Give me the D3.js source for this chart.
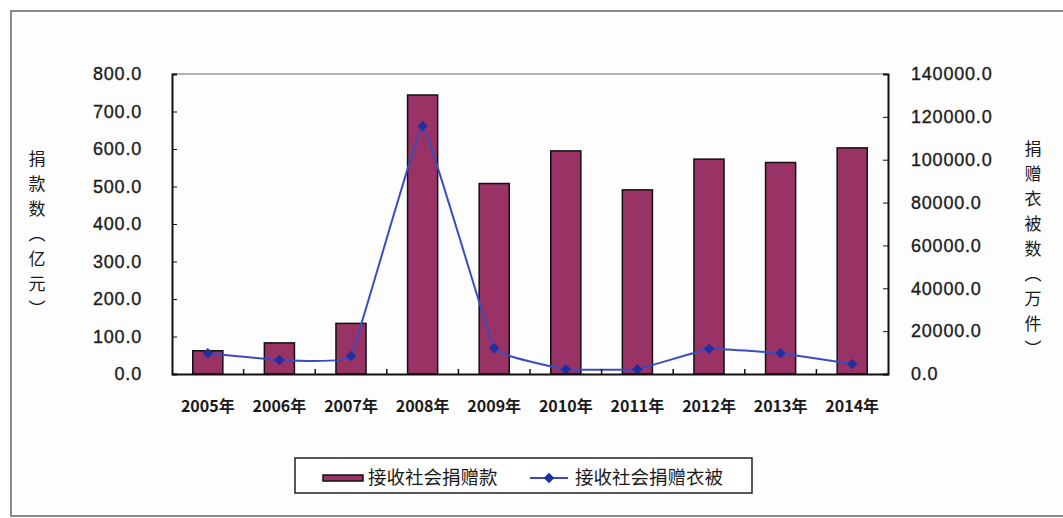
<!DOCTYPE html>
<html>
<head>
<meta charset="utf-8">
<script src="https://cdn.jsdelivr.net/npm/d3@7"></script>
<style>
  body { margin: 0; background: #fff; }
  svg text { font-family: "Liberation Sans", Arial, "Noto Sans CJK SC", sans-serif; fill: #1a1a1a; }
  .cjk { font-family: "Noto Sans CJK SC", sans-serif; }
</style>
</head>
<body>
<div id="container"></div>
<script>
var W = 1063, H = 518;
var margin = {top: 74, right: 175, bottom: 144, left: 172},
    w = W - margin.left - margin.right,
    h = H - margin.top - margin.bottom;

// data
var years = ['2005年', '2006年', '2007年', '2008年', '2009年', '2010年', '2011年', '2012年', '2013年', '2014年'];
var money = [62, 83, 135, 744, 508, 595, 491, 573, 564, 603];          // 亿元
var clothes = [9700, 6500, 8400, 115700, 12000, 2200, 2200, 11800, 9700, 4700]; // 万件
var leftTicks = [0, 100, 200, 300, 400, 500, 600, 700, 800];
var rightTicks = [0, 20000, 40000, 60000, 80000, 100000, 120000, 140000];
var seriesNames = ['接收社会捐赠款', '接收社会捐赠衣被'];

var svg = d3.select('#container').append('svg')
    .attr('width', W)
    .attr('height', H);

// outer frame
svg.append('rect')
    .attr('x', 11).attr('y', 11)
    .attr('width', W + 10).attr('height', H - 13)
    .attr('fill', '#fdfdfd')
    .attr('stroke', '#8a8a8a')
    .attr('stroke-width', 2);

var g = svg.append('g').attr('transform', 'translate(' + margin.left + ',' + margin.top + ')');

var x = d3.scaleBand().domain(years).range([0, w]).paddingInner(0.58).paddingOuter(0.29);
var yL = d3.scaleLinear().domain([0, 800]).range([h, 0]);
var yR = d3.scaleLinear().domain([0, 140000]).range([h, 0]);

// plot area top border
g.append('line')
    .attr('x1', 0).attr('x2', w).attr('y1', 0).attr('y2', 0)
    .attr('stroke', '#9a9a9a').attr('stroke-width', 1.5);

// bars
g.selectAll('rect.bar').data(money)
  .enter().append('rect')
    .attr('class', 'bar')
    .attr('x', (d, i) => x(years[i]))
    .attr('y', d => yL(d))
    .attr('width', x.bandwidth())
    .attr('height', d => h - yL(d))
    .attr('fill', '#993366')
    .attr('stroke', '#111')
    .attr('stroke-width', 1.5);

// line (lightly smoothed, like the Excel original)
var line = d3.line()
    .x((d, i) => x(years[i]) + x.bandwidth() / 2)
    .y(d => yR(d))
    .curve(d3.curveCardinal.tension(0.8));

g.append('path')
    .datum(clothes)
    .attr('d', line)
    .attr('fill', 'none')
    .attr('stroke', '#3a4cc0')
    .attr('stroke-width', 2);

var diamond = d3.symbol().type(d3.symbolSquare).size(55);
g.selectAll('path.pt').data(clothes)
  .enter().append('path')
    .attr('class', 'pt')
    .attr('d', diamond)
    .attr('transform', (d, i) => 'translate(' + (x(years[i]) + x.bandwidth() / 2) + ',' + yR(d) + ') rotate(45)')
    .attr('fill', '#1f2f9e');

function styleNums(sel) {
  sel.style('font-size', '18px')
     .style('letter-spacing', '0.8px')
     .attr('fill', '#222')
     .attr('stroke', '#222')
     .attr('stroke-width', 0.35);
}

// left axis
var leftAxis = d3.axisLeft(yL).tickValues(leftTicks).tickSize(-5).tickPadding(30)
    .tickFormat(d3.format('.1f'));
var la = g.append('g').call(leftAxis);
la.select('.domain').attr('stroke', '#111').attr('stroke-width', 2);
la.selectAll('.tick line').attr('stroke', '#111');
la.selectAll('.tick text').call(styleNums);

// right axis
var rightAxis = d3.axisRight(yR).tickValues(rightTicks).tickSize(-5).tickPadding(23)
    .tickFormat(d3.format('.1f'));
var ra = g.append('g').attr('transform', 'translate(' + w + ',0)').call(rightAxis);
ra.select('.domain').attr('stroke', '#111').attr('stroke-width', 2);
ra.selectAll('.tick line').attr('stroke', '#111');
ra.selectAll('.tick text').call(styleNums);

// x axis: labels at bar centres, ticks between categories
var xa = g.append('g').attr('transform', 'translate(0,' + h + ')').call(d3.axisBottom(x).tickSize(0).tickPadding(27));
xa.select('.domain').attr('stroke', '#111').attr('stroke-width', 2);
xa.selectAll('.tick text').attr('class', 'cjk').style('font-size', '16px').style('font-weight', 'bold').attr('fill', '#222');
g.selectAll('line.xt').data(years.slice(1))
  .enter().append('line')
    .attr('class', 'xt')
    .attr('x1', d => x(d) - x.step() * x.paddingInner() / 2)
    .attr('x2', d => x(d) - x.step() * x.paddingInner() / 2)
    .attr('y1', h).attr('y2', h - 5)
    .attr('stroke', '#111').attr('stroke-width', 1.5);

// axis titles (vertical)
svg.append('text')
    .attr('class', 'cjk')
    .attr('x', 37).attr('y', 150)
    .style('writing-mode', 'vertical-rl')
    .style('font-size', '17px')
    .style('letter-spacing', '8px')
    .attr('fill', '#333')
    .text('捐款数（亿元）');

svg.append('text')
    .attr('class', 'cjk')
    .attr('x', 1033).attr('y', 140)
    .style('writing-mode', 'vertical-rl')
    .style('font-size', '17px')
    .style('letter-spacing', '8px')
    .attr('fill', '#333')
    .text('捐赠衣被数（万件）');

// legend
var lg = svg.append('g').attr('transform', 'translate(295,458)');
lg.append('rect')
    .attr('width', 457).attr('height', 35)
    .attr('fill', '#fff')
    .attr('stroke', '#222').attr('stroke-width', 1.5);
lg.append('rect')
    .attr('x', 28).attr('y', 17).attr('width', 40).attr('height', 6)
    .attr('fill', '#993366').attr('stroke', '#111').attr('stroke-width', 1.5);
lg.append('text').attr('class', 'cjk')
    .attr('x', 73).attr('y', 26)
    .style('font-size', '18.5px').attr('fill', '#222')
    .text(seriesNames[0]);
lg.append('line')
    .attr('x1', 235).attr('x2', 273).attr('y1', 20).attr('y2', 20)
    .attr('stroke', '#3a4cc0').attr('stroke-width', 2);
lg.append('path')
    .attr('d', diamond)
    .attr('transform', 'translate(254,20) rotate(45)')
    .attr('fill', '#1f2f9e');
lg.append('text').attr('class', 'cjk')
    .attr('x', 280).attr('y', 26)
    .style('font-size', '18.5px').attr('fill', '#222')
    .text(seriesNames[1]);
</script>
</body>
</html>
